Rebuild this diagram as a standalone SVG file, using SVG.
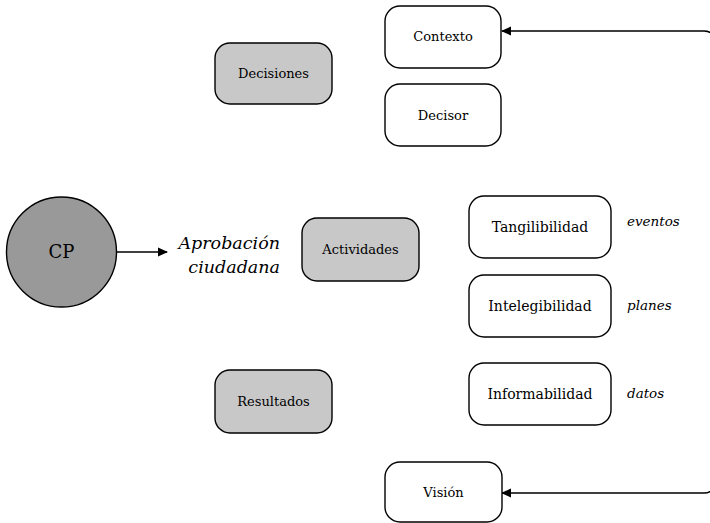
<svg xmlns="http://www.w3.org/2000/svg" width="710" height="523" viewBox="0 0 710 523">
<style>
.box{fill:#fff;stroke:#000;stroke-width:1.4}
.gray{fill:#c8c8c8;stroke:#000;stroke-width:1.4}
.t{font-family:"DejaVu Serif","Liberation Serif",serif;font-size:13px;text-anchor:middle;fill:#000}
.t2{font-size:14px}
.it{font-family:"DejaVu Serif","Liberation Serif",serif;font-style:italic;font-size:13.5px;fill:#000}
.conn{fill:none;stroke:#000;stroke-width:1.4}
</style>
<defs>
<marker id="ah" viewBox="0 0 10 10" refX="9" refY="5" markerWidth="10" markerHeight="10" markerUnits="userSpaceOnUse" orient="auto">
<path d="M0,0.5 L10,5 L0,9.5 Z" fill="#000"/>
</marker>
</defs>
<rect width="710" height="523" fill="#fff"/>
<g id="connectors">
<path class="conn" d="M117,252 L167,252" marker-end="url(#ah)"/>
<path class="conn" d="M714,50 L714,41 Q714,31 704,31 L502,31" marker-end="url(#ah)"/>
<path class="conn" d="M714,475 L714,483 Q714,493 704,493 L502,493" marker-end="url(#ah)"/>
</g>
<g id="cp"><circle cx="61.5" cy="252" r="55" fill="#999" stroke="#000" stroke-width="1.4"/><text class="t" x="61.5" y="258" style="font-size:18px">CP</text></g>
<g id="aprobacion"><text class="it" x="280" y="249" text-anchor="end" style="font-size:17.5px">Aprobación</text><text class="it" x="280" y="273" text-anchor="end" style="font-size:17.5px">ciudadana</text></g>
<g id="decisiones"><rect class="gray" x="215" y="43" width="117" height="61" rx="15"/><text class="t" x="273.5" y="78">Decisiones</text></g>
<g id="actividades"><rect class="gray" x="302" y="218" width="117" height="63" rx="15"/><text class="t" x="360.5" y="254">Actividades</text></g>
<g id="resultados"><rect class="gray" x="215" y="370" width="117" height="63" rx="15"/><text class="t" x="273.5" y="406">Resultados</text></g>
<g id="contexto"><rect class="box" x="385" y="6" width="116" height="62" rx="15"/><text class="t" x="443" y="41">Contexto</text></g>
<g id="decisor"><rect class="box" x="385" y="84" width="116" height="62" rx="15"/><text class="t" x="443" y="120">Decisor</text></g>
<g id="tangilibilidad"><rect class="box" x="469" y="196" width="142" height="62" rx="15"/><text class="t t2" x="540" y="232">Tangilibilidad</text></g>
<g id="intelegibilidad"><rect class="box" x="469" y="275" width="142" height="62" rx="15"/><text class="t t2" x="540" y="311">Intelegibilidad</text></g>
<g id="informabilidad"><rect class="box" x="469" y="363" width="142" height="62" rx="15"/><text class="t t2" x="540" y="399">Informabilidad</text></g>
<g id="vision"><rect class="box" x="385" y="462" width="117" height="60" rx="15"/><text class="t" x="443.5" y="497">Visión</text></g>
<g id="labels"><text class="it" x="627" y="226">eventos</text><text class="it" x="627" y="310">planes</text><text class="it" x="627" y="398">datos</text></g>
</svg>
